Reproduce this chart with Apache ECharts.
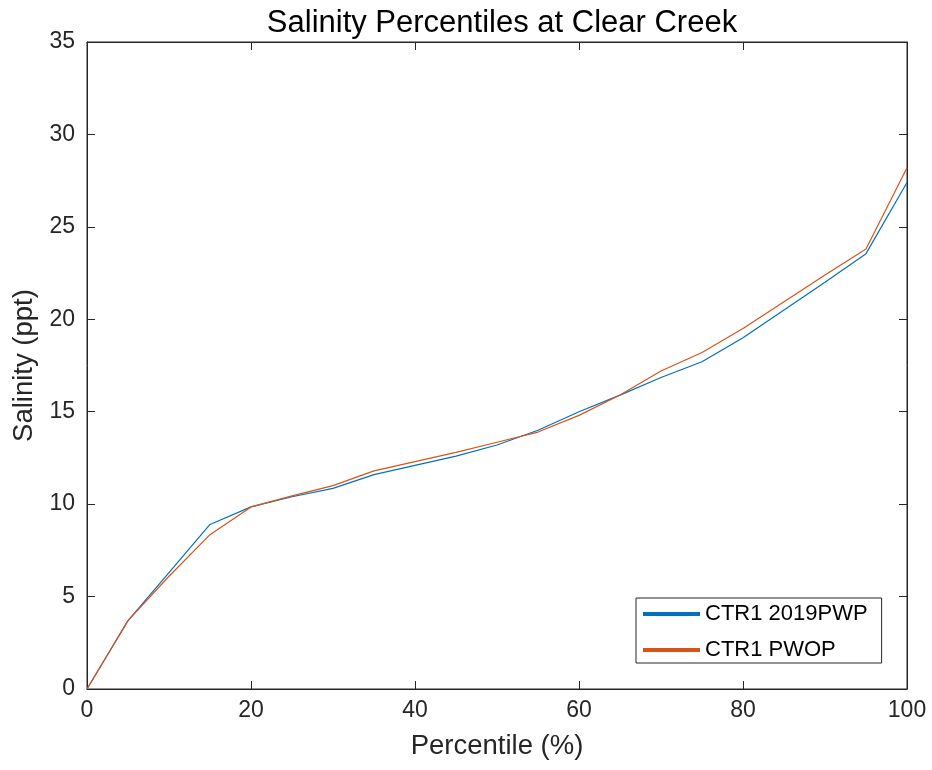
<!DOCTYPE html>
<html lang="en">
<head>
  <meta charset="UTF-8">
  <script src="https://cdn.jsdelivr.net/npm/echarts@6/dist/echarts.min.js"></script>
  <title>Salinity Percentiles</title>
  <style>
    html, body { margin: 0; padding: 0; background: #fff; }
    .container { width: 932px; height: 770px; }
  </style>
</head>
<body>
  <div class="container"></div>
  <script>
    const percentiles = [0, 5, 10, 15, 20, 25, 30, 35, 40, 45, 50, 55, 60, 65, 70, 75, 80, 85, 90, 95, 100];
    const ctr1_2019pwp = [0, 3.7, 6.3, 8.9, 9.85, 10.4, 10.85, 11.6, 12.1, 12.6, 13.2, 14.0, 15.0, 15.9, 16.85, 17.7, 19.0, 20.5, 22.0, 23.55, 27.4];
    const ctr1_pwop = [0, 3.7, 6.1, 8.35, 9.85, 10.45, 11.0, 11.8, 12.3, 12.8, 13.35, 13.9, 14.8, 15.9, 17.2, 18.2, 19.5, 20.95, 22.4, 23.8, 28.2];

    const font = "Liberation Sans";
    const axisColor = "#262626";

    const pairs = (ys) => percentiles.map((x, i) => [x, ys[i]]);

    // matlab style box: ticks inside on all four sides
    const tick = { show: true, inside: true, length: 8, lineStyle: { color: axisColor, width: 1 } };
    const line = { show: true, onZero: false, lineStyle: { color: axisColor, width: 1 } };

    const chart = echarts.init(document.querySelector(".container"));
    const options = {
      animation: false,
      title: {
        text: "Salinity Percentiles at Clear Creek",
        left: 497,
        top: 3,
        textAlign: "center",
        textStyle: { fontFamily: font, fontSize: 31, fontWeight: "normal", color: "#000" },
      },
      color: ["#0072BD", "#D95319"],
      grid: {
        left: 87, right: 25, top: 42, bottom: 81,
        show: true, borderColor: axisColor, borderWidth: 1,
      },
      legend: {
        orient: "vertical",
        left: 636,
        top: 598,
        padding: [5, 14, 2, 7],
        itemWidth: 57,
        itemHeight: 4,
        itemGap: 14,
        icon: "rect",
        backgroundColor: "#fff",
        borderColor: axisColor,
        borderWidth: 1,
        borderRadius: 0,
        textStyle: { fontFamily: font, fontSize: 22, color: "#000", lineHeight: 22 },
        data: ["CTR1 2019PWP", "CTR1 PWOP"],
      },
      xAxis: [
        {
          type: "value", min: 0, max: 100, interval: 20, position: "bottom",
          name: "Percentile (%)", nameLocation: "middle", nameGap: 43,
          nameTextStyle: { fontFamily: font, fontSize: 27.5, color: "#262626" },
          axisLine: line,
          axisTick: tick,
          axisLabel: { fontFamily: font, fontSize: 23, color: "#262626", margin: 10 },
          splitLine: { show: false },
        },
        {
          type: "value", min: 0, max: 100, interval: 20, position: "top",
          axisLine: line,
          axisTick: tick,
          axisLabel: { show: false },
          splitLine: { show: false },
        },
      ],
      yAxis: [
        {
          type: "value", min: 0, max: 35, interval: 5, position: "left",
          name: "Salinity (ppt)", nameLocation: "middle", nameGap: 42,
          nameTextStyle: { fontFamily: font, fontSize: 27.5, color: "#262626" },
          axisLine: line,
          axisTick: tick,
          axisLabel: { fontFamily: font, fontSize: 23, color: "#262626", margin: 12 },
          splitLine: { show: false },
        },
        {
          type: "value", min: 0, max: 35, interval: 5, position: "right",
          axisLine: line,
          axisTick: tick,
          axisLabel: { show: false },
          splitLine: { show: false },
        },
      ],
      series: [
        {
          name: "CTR1 2019PWP",
          type: "line",
          xAxisIndex: 0,
          yAxisIndex: 0,
          data: pairs(ctr1_2019pwp),
          showSymbol: false,
          lineStyle: { width: 1.2 },
        },
        {
          name: "CTR1 PWOP",
          type: "line",
          xAxisIndex: 1,
          yAxisIndex: 1,
          data: pairs(ctr1_pwop),
          showSymbol: false,
          lineStyle: { width: 1.2 },
        },
      ],
    };

    chart.setOption(options);
  </script>
</body>
</html>
